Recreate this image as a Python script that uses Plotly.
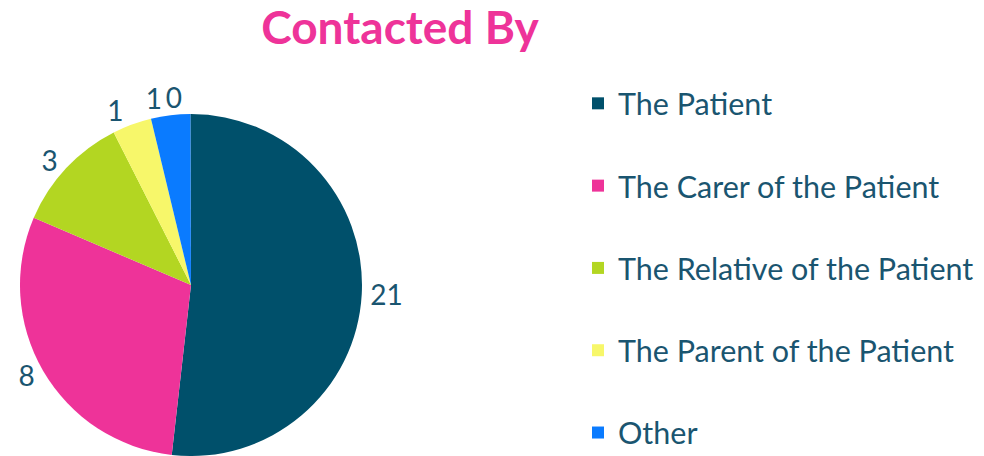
import plotly.graph_objects as go

categories = ["The Patient", "The Carer of the Patient", "The Relative of the Patient",
              "The Parent of the Patient", "Other", "Not Recorded"]
# slice sizes as drawn in the picture
slice_values = [14, 8, 3, 1, 1, 0]
# numbers printed beside the slices
label_values = [21, 8, 3, 1, 1, 0]
colors = ["#00506B", "#EE3399", "#B3D622", "#F7F76A", "#0A7BFF", "#7F7F7F"]
# legend entries visible in the picture
in_legend = [True, True, True, True, True, False]

TEXT = "#1A5570"
FONT = "Century Gothic, Lato, Open Sans, sans-serif"

# the small neighbouring labels are drawn in separate (transparent) layers so
# plotly does not push them apart with leader lines
LABEL_LAYER = [0, 0, 0, 1, 0, 2]

# blank second line gives the wide spacing between legend entries
legend_labels = [f"{c}<br> " for c in categories]

fig = go.Figure()
for layer in range(3):
    main = layer == 0
    idx = [i for i in range(len(categories)) if (in_legend[i] or not main)]
    texts = [str(label_values[i]) if LABEL_LAYER[i] == layer else "" for i in idx]
    fig.add_trace(go.Pie(
        labels=[legend_labels[i] for i in idx],
        values=[slice_values[i] for i in idx],
        text=texts,
        textinfo="text",
        textposition="outside",
        sort=False,
        direction="clockwise",
        rotation=-0.2,
        marker=dict(colors=[colors[i] for i in idx] if main else ["rgba(0,0,0,0)"] * len(idx),
                    line=dict(width=0)),
        outsidetextfont=dict(size=28, color=TEXT, family=FONT),
        domain=dict(x=[0.0203, 0.3679], y=[0.0, 0.75]),
        hoverinfo="label+value" if main else "skip",
        showlegend=main,
    ))

fig.update_layout(
    width=984, height=456,
    margin=dict(l=0, r=0, t=0, b=0, autoexpand=False),
    paper_bgcolor="white",
    font=dict(family=FONT, color=TEXT),
    title=dict(text="<b>Contacted By</b>", x=0.4065, xanchor="center", y=0.938, yanchor="middle",
               font=dict(size=46, color="#EE3399", family=FONT)),
    legend=dict(x=578/984, xanchor="left", y=1 - 77/456, yanchor="top", valign="top",
                maxheight=800,
                font=dict(size=30.5, color=TEXT, family=FONT), bgcolor="rgba(0,0,0,0)"),
    showlegend=True,
)

fig.write_html("out.html")
